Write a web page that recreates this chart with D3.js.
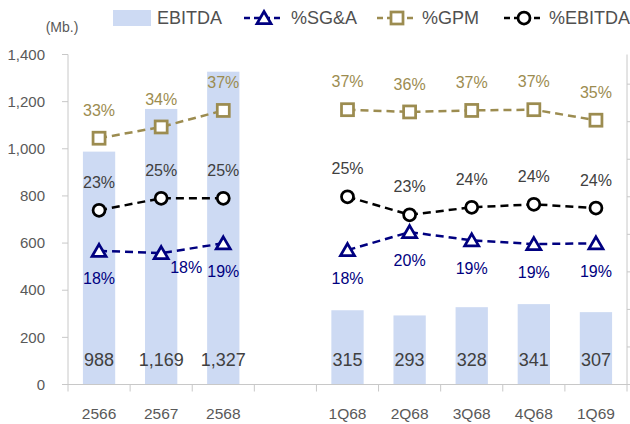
<!DOCTYPE html>
<html>
<head>
<meta charset="utf-8">
<script src="https://cdn.jsdelivr.net/npm/d3@7"></script>
<style>
  body { margin: 0; background: #fff; }
  svg { display: block; font-family: "Liberation Sans", Arial, sans-serif; }
</style>
</head>
<body>
<svg id="chart"></svg>
<script>
// categories (empty slot = gap between years and quarters)
var categories = ["2566", "2567", "2568", "", "1Q68", "2Q68", "3Q68", "4Q68", "1Q69"]

// EBITDA (Mb.)
var ebitda = [988, 1169, 1327, null, 315, 293, 328, 341, 307]

// ratios in %
var gpm = [32.8, 34.3, 36.5, null, 36.6, 36.3, 36.5, 36.6, 35.2]
var ebitdaPct = [23.2, 24.8, 24.8, null, 25.0, 22.6, 23.6, 24.0, 23.5]
var sga = [17.8, 17.5, 18.8, null, 17.9, 20.3, 19.2, 18.7, 18.8]

// left axis ticks
var leftTicks = [0, 200, 400, 600, 800, 1000, 1200, 1400]
var rightTicks = [0, 5, 10, 15, 20, 25, 30, 35, 40]

// where the %SG&A label sits for each point
var sgaLabelPos = ["below", "right", "below", null, "below", "below", "below", "below", "below"]

var dimensions = { width: 630, height: 424 }
var plot = { left: 68, right: 627, top: 54.5, bottom: 384.5 }

var colors = {
  bar: "#cddaf3",
  gpm: "#9c8c50",
  sga: "#000080",
  ebitda: "#000000",
  pctText: "#404040",
  axis: "#c8c8c8",
  tick: "#595959"
}

var svg = d3.select("#chart")
  .attr("width", dimensions.width)
  .attr("height", dimensions.height)

// scales
var x = d3.scaleBand()
  .domain(d3.range(categories.length))
  .range([plot.left, plot.right])
  .padding(0)

var y = d3.scaleLinear()
  .domain([0, 1400])
  .range([plot.bottom, plot.top])

var yPct = d3.scaleLinear()
  .domain([0, 43.95])
  .range([plot.bottom, plot.top])

var barW = x.bandwidth() * 0.52
var cx = function(i) { return x(i) + x.bandwidth() / 2 }

var barData = ebitda.map(function(v, i) { return { v: v, i: i } }).filter(function(d) { return d.v != null })

// bars
svg.append("g")
  .selectAll("rect")
  .data(barData)
  .join("rect")
  .attr("x", d => cx(d.i) - barW / 2)
  .attr("y", d => y(d.v))
  .attr("width", barW)
  .attr("height", d => y(0) - y(d.v))
  .attr("fill", colors.bar)

// bar value labels (inside base)
svg.append("g")
  .selectAll("text")
  .data(barData)
  .join("text")
  .attr("x", d => cx(d.i))
  .attr("y", 360)
  .attr("dy", "0.35em")
  .attr("text-anchor", "middle")
  .style("font-size", "18px")
  .style("fill", "#404040")
  .text(d => d3.format(",")(d.v))

// left axis
var gl = svg.append("g")
gl.append("line")
  .attr("x1", plot.left).attr("x2", plot.left)
  .attr("y1", plot.top).attr("y2", plot.bottom)
  .attr("stroke", colors.axis)
gl.selectAll(".lt")
  .data(leftTicks)
  .join("line")
  .attr("x1", plot.left - 6).attr("x2", plot.left)
  .attr("y1", d => y(d)).attr("y2", d => y(d))
  .attr("stroke", colors.axis)
gl.selectAll("text")
  .data(leftTicks)
  .join("text")
  .attr("x", 45)
  .attr("y", d => y(d))
  .attr("dy", "0.35em")
  .attr("text-anchor", "end")
  .style("font-size", "15px")
  .style("fill", colors.tick)
  .text(d => d3.format(",")(d))

svg.append("text")
  .attr("x", 62)
  .attr("y", 27)
  .attr("dy", "0.35em")
  .attr("text-anchor", "middle")
  .style("font-size", "14px")
  .style("fill", colors.tick)
  .text("(Mb.)")

// right axis (no labels)
var gr = svg.append("g")
gr.append("line")
  .attr("x1", plot.right).attr("x2", plot.right)
  .attr("y1", plot.top).attr("y2", plot.bottom)
  .attr("stroke", colors.axis)
gr.selectAll("line.rt")
  .data(rightTicks)
  .join("line")
  .attr("class", "rt")
  .attr("x1", plot.right).attr("x2", plot.right + 6)
  .attr("y1", d => yPct(d)).attr("y2", d => yPct(d))
  .attr("stroke", colors.axis)

// x axis
var gx = svg.append("g")
gx.append("line")
  .attr("x1", plot.left - 6).attr("x2", plot.right)
  .attr("y1", plot.bottom).attr("y2", plot.bottom)
  .attr("stroke", colors.axis)
gx.selectAll("line.xt")
  .data(d3.range(categories.length + 1))
  .join("line")
  .attr("class", "xt")
  .attr("x1", d => plot.left + d * x.bandwidth())
  .attr("x2", d => plot.left + d * x.bandwidth())
  .attr("y1", plot.bottom).attr("y2", plot.bottom + 7)
  .attr("stroke", colors.axis)
gx.selectAll("text")
  .data(categories)
  .join("text")
  .attr("x", (d, i) => cx(i))
  .attr("y", 414)
  .attr("dy", "0.35em")
  .attr("text-anchor", "middle")
  .style("font-size", "15.5px")
  .style("fill", colors.tick)
  .text(d => d)

// marker drawing
function drawMarker(g, type, color) {
  if (type == "square") {
    g.append("rect")
      .attr("x", -6).attr("y", -6)
      .attr("width", 12).attr("height", 12)
      .attr("fill", "#fff")
      .attr("stroke", color)
      .attr("stroke-width", 2.75)
  } else if (type == "circle") {
    g.append("circle")
      .attr("r", 6)
      .attr("fill", "#fff")
      .attr("stroke", color)
      .attr("stroke-width", 2.75)
  } else {
    g.append("path")
      .attr("d", "M0,-6.5L7,5.5L-7,5.5Z")
      .attr("fill", "#fff")
      .attr("stroke", color)
      .attr("stroke-width", 2.75)
  }
}

var line = d3.line()
  .defined(d => d.v != null)
  .x(d => cx(d.i))
  .y(d => yPct(d.v))

var series = [
  { name: "%SG&A", values: sga, color: colors.sga, text: colors.sga, marker: "triangle", label: "below" },
  { name: "%GPM", values: gpm, color: colors.gpm, text: colors.gpm, marker: "square", label: "above" },
  { name: "%EBITDA", values: ebitdaPct, color: colors.ebitda, text: colors.pctText, marker: "circle", label: "above" }
]

series.forEach(function(s) {
  var pts = s.values.map(function(v, i) { return { v: v, i: i } })
  svg.append("path")
    .datum(pts)
    .attr("d", line)
    .attr("fill", "none")
    .attr("stroke", s.color)
    .attr("stroke-width", 2.5)
    .attr("stroke-dasharray", "8,5")

  pts.filter(d => d.v != null).forEach(function(d) {
    var g = svg.append("g")
      .attr("transform", "translate(" + cx(d.i) + "," + yPct(d.v) + ")")
    drawMarker(g, s.marker, s.color)

    var pos = s.label
    if (s.name == "%SG&A") pos = sgaLabelPos[d.i]
    var lx = cx(d.i), ly = yPct(d.v), anchor = "middle"
    if (pos == "above") ly -= 28
    else if (pos == "below") ly += 28
    else if (pos == "right") { lx += 9; ly += 14; anchor = "start" }

    svg.append("text")
      .attr("x", lx)
      .attr("y", ly)
      .attr("dy", "0.35em")
      .attr("text-anchor", anchor)
      .style("font-size", "16px")
      .style("fill", s.text)
      .text(Math.round(d.v) + "%")
  })
})

// legend
var lg = svg.append("g")
lg.append("rect")
  .attr("x", 113).attr("y", 10)
  .attr("width", 38).attr("height", 16)
  .attr("fill", colors.bar)
lg.append("text")
  .attr("x", 157).attr("y", 18)
  .attr("dy", "0.35em")
  .style("font-size", "18px")
  .style("fill", "#505050")
  .text("EBITDA")

var legendPos = [
  { x: 244, tx: 291 },
  { x: 377, tx: 422 },
  { x: 504, tx: 549 }
]
series.forEach(function(s, k) {
  var p = legendPos[k]
  lg.append("line")
    .attr("x1", p.x).attr("x2", p.x + 40)
    .attr("y1", 18).attr("y2", 18)
    .attr("stroke", s.color)
    .attr("stroke-width", 2.5)
    .attr("stroke-dasharray", "6,4")
  var g = lg.append("g").attr("transform", "translate(" + (p.x + 20) + ",18)")
  drawMarker(g, s.marker, s.color)
  lg.append("text")
    .attr("x", p.tx).attr("y", 18)
    .attr("dy", "0.35em")
    .style("font-size", "18px")
    .style("fill", "#505050")
    .text(s.name)
})
</script>
</body>
</html>
